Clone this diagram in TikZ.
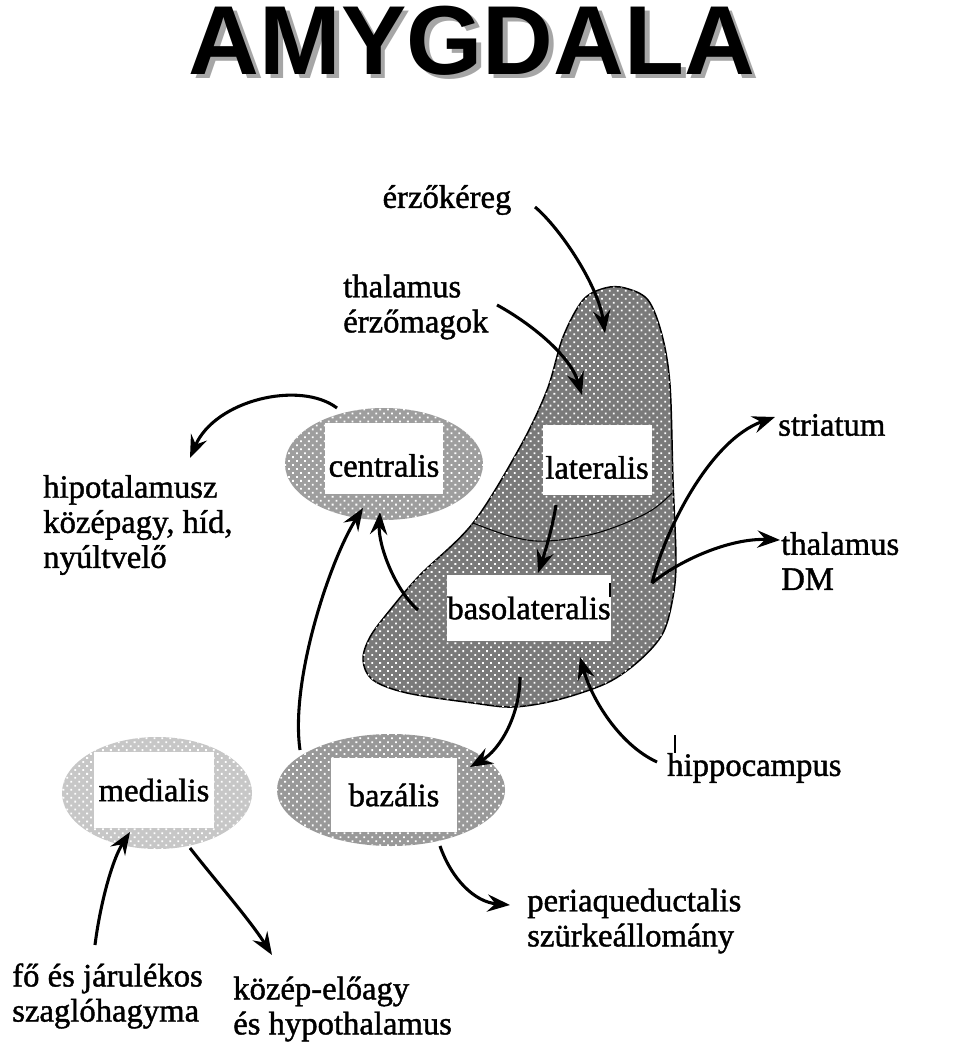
\documentclass[tikz,border=0pt]{standalone}
\usepackage{fontspec}
\setmainfont{Liberation Serif}
\newfontfamily\lblfont{Liberation Serif}[FakeBold=1.3]
\newfontfamily\titlefont{Liberation Sans}
\usetikzlibrary{arrows.meta,patterns.meta,shapes.geometric}
\begin{document}
\begin{tikzpicture}[x=0.75pt,y=-0.75pt,
  lbl/.style={font=\lblfont\fontsize{24.5}{26.3}\selectfont, inner sep=0pt, align=left, anchor=west},
  wbox/.style={fill=white, font=\lblfont\fontsize{24.5}{26.3}\selectfont, inner sep=0pt},
  conn/.style={line width=2.3pt, -{Stealth[length=17pt,width=13pt,inset=6pt]}},
  ell/.style={ellipse, inner sep=0pt, draw=none},
  dotsA/.style={postaction={pattern={Dots[distance=4.2pt,angle=45,radius=0.95pt]}, pattern color=white}},
  ttl/.style={font=\titlefont\bfseries\fontsize{73.5}{80}\selectfont, inner sep=0pt}
]
\useasboundingbox (0,0) rectangle (960,1059);
\fill[white] (0,0) rectangle (960,1059);

% title with drop shadow, one node
\node[ttl, text=black] (title) at (472,43) {\rlap{\kern3.5pt\raisebox{-3pt}{\color{black!35}AMYGDALA}}AMYGDALA};

% ellipses
\node[ell, fill=black!38, dotsA, minimum width=148.5pt, minimum height=84pt] (centralisE) at (384,464) {};
\node[ell, fill=black!22, dotsA, minimum width=142.5pt, minimum height=84pt] (medialisE) at (157,793) {};
\node[ell, fill=black!40, dotsA, minimum width=171pt, minimum height=84pt] (bazalisE) at (391,790) {};

% amygdala body
\draw[line width=1.1pt, fill=black!52, dotsA] plot[smooth cycle, tension=0.55] coordinates {
 (625,288) (648,300) (662,335) (670,385) (673,480) (676,560) (673,597) (663,633) (640,660)
 (607,683) (557,700) (513,707) (473,703) (407,693) (373,680) (363,660) (370,637) (390,610)
 (420,575) (473,523) (520,447) (547,390) (563,337) (583,300) (605,288)};
\draw[line width=0.8pt] plot[smooth, tension=0.6] coordinates {(473,523) (513,537) (547,541) (597,533) (647,513) (672,493)};

% white boxes
\node[wbox, minimum width=88.5pt, minimum height=53.25pt, text height=28pt, text depth=0pt] (centralis) at (384,458) {centralis};
\node[wbox, minimum width=81.75pt, minimum height=52.5pt, text height=28pt, text depth=0pt] (lateralis) at (597,460) {lateralis};
\node[wbox, minimum width=121.5pt, minimum height=50pt] (basolateralis) at (529,608) {basolateralis};
\node[wbox, minimum width=90pt, minimum height=57pt] (medialis) at (154,790) {medialis};
\node[wbox, minimum width=94pt, minimum height=56pt] (bazalis) at (394,795) {bazális};

% labels
\node[lbl, anchor=center] (erzo) at (447,200) {érzőkéreg};
\node[lbl] (thalS) at (343,307) {thalamus\\érzőmagok};
\node[lbl] (hipo) at (43,525) {hipotalamusz\\középagy, híd,\\nyúltvelő};
\node[lbl] (striatum) at (778,425) {striatum};
\node[lbl] (thalDM) at (781,561) {thalamus\\DM};
\node[lbl] (hippo) at (667,768) {hippocampus};
\node[lbl] (peri) at (527,921) {periaqueductalis\\szürkeállomány};
\node[lbl] (szagl) at (12,996) {fő és járulékos\\szaglóhagyma};
\node[lbl] (kozep) at (233,1009) {közép-előagy\\és hypothalamus};

% small ticks
\draw[line width=0.8pt] (675,735) -- (675,753);
\draw[line width=0.8pt] (610,583) -- (610,597);

% connector end points
\coordinate (a1s) at (535,207); \coordinate (a1e) at (605,333);
\coordinate (a2s) at (497,305); \coordinate (a2e) at (582,395);
\coordinate (a3s) at (556,505); \coordinate (a3e) at (538,573);
\coordinate (a4s) at (418,610); \coordinate (a4e) at (380,512);
\coordinate (a5s) at (300,750); \coordinate (a5e) at (363,508);
\coordinate (a6s) at (337,408); \coordinate (a6e) at (190,458);
\coordinate (a7s) at (520,677); \coordinate (a7e) at (470,767);
\coordinate (a8s) at (657,762); \coordinate (a8e) at (580,657);
\coordinate (a9s) at (652,583); \coordinate (a9e) at (775,417);
\coordinate (a10e) at (780,540);
\coordinate (a11s) at (440,846); \coordinate (a11e) at (510,905);
\coordinate (a12s) at (190,848); \coordinate (a12e) at (272,955);
\coordinate (a13s) at (95,945); \coordinate (a13e) at (130,832);

% connectors
\draw[conn] (a1s) .. controls (560,228) and (598,285) .. (a1e);
\draw[conn] (a2s) .. controls (530,323) and (570,355) .. (a2e);
\draw[conn] (a3s) .. controls (552,530) and (545,552) .. (a3e);
\draw[conn] (a4s) .. controls (395,590) and (378,545) .. (a4e);
\draw[conn] (a5s) .. controls (290,680) and (330,560) .. (a5e);
\draw[conn] (a6s) .. controls (300,380) and (215,400) .. (a6e);
\draw[conn] (a7s) .. controls (520,715) and (500,750) .. (a7e);
\draw[conn] (a8s) .. controls (620,745) and (592,700) .. (a8e);
\draw[conn] (a9s) .. controls (665,530) and (710,440) .. (a9e);
\draw[conn] (a9s) .. controls (680,560) and (730,538) .. (a10e);
\draw[conn] (a11s) .. controls (452,880) and (475,902) .. (a11e);
\draw[conn] (a12s) .. controls (215,880) and (250,920) .. (a12e);
\draw[conn] (a13s) .. controls (100,905) and (112,860) .. (a13e);
\end{tikzpicture}
\end{document}
